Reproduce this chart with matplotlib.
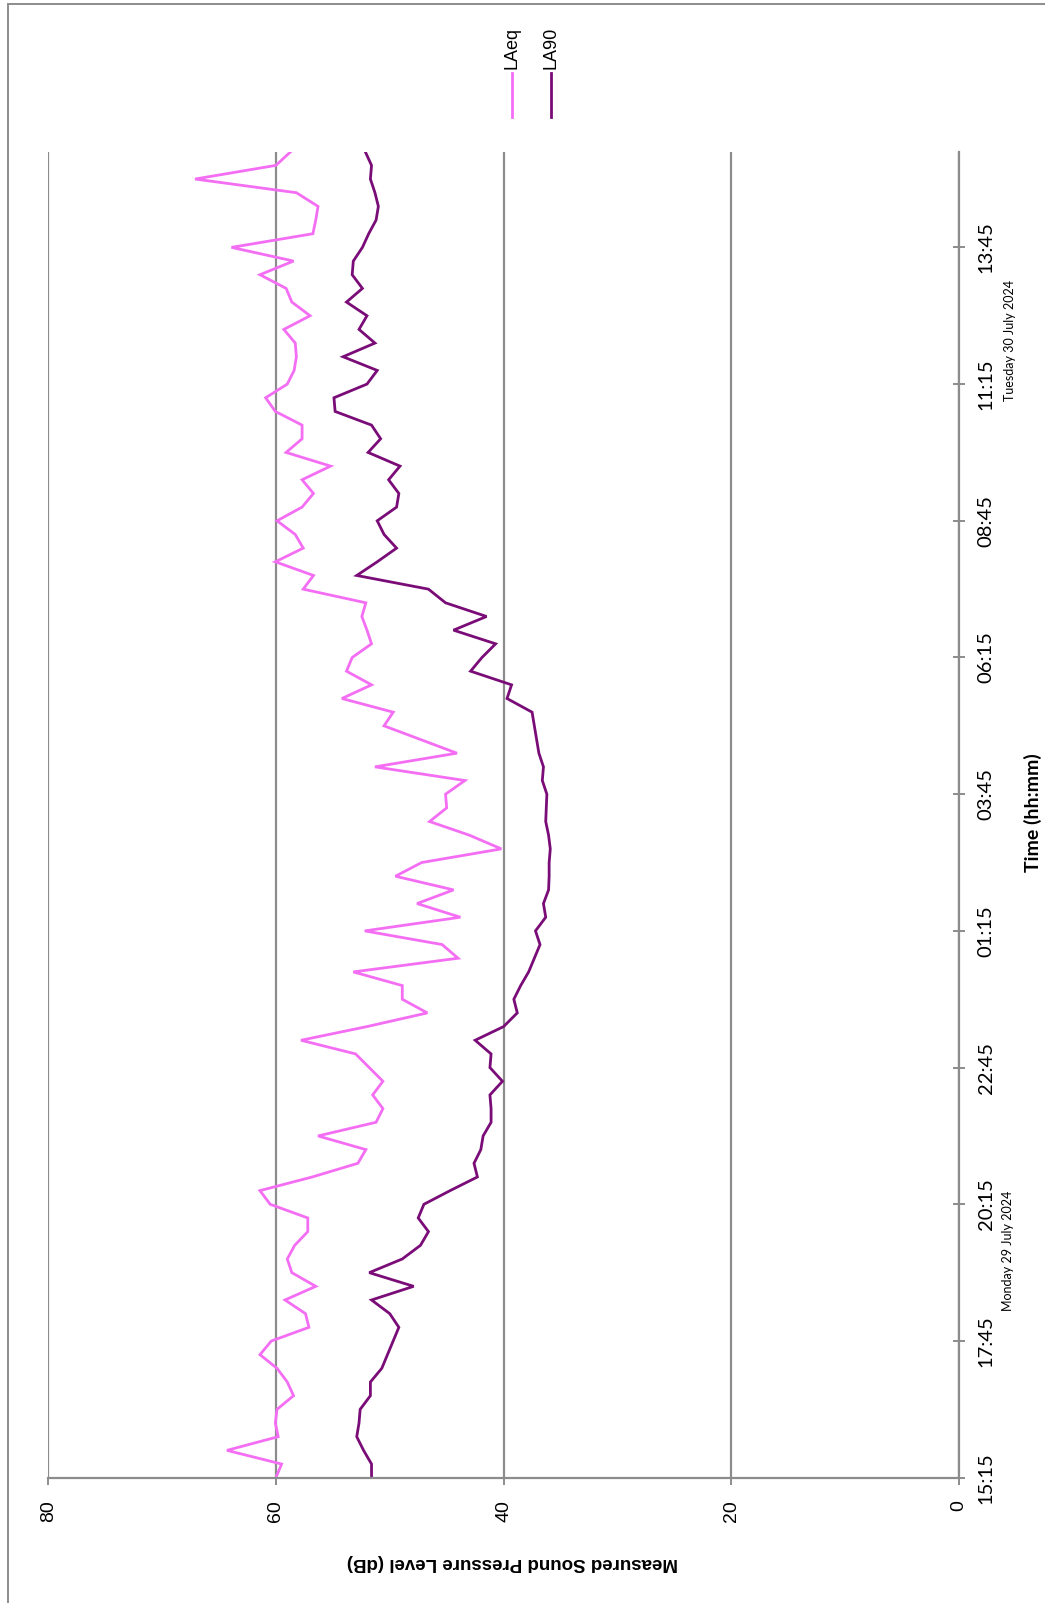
import matplotlib.pyplot as plt
from matplotlib.lines import Line2D
from matplotlib.patches import Rectangle

# 15-minute samples, 15:15 Mon 29 July -> 15:30 Tue 30 July
laeq = [60.0, 59.5, 64.3, 59.8, 60.05, 59.9, 58.45, 59.0, 59.9, 61.4,
        60.4, 57.1, 57.4, 59.2, 56.5, 58.6, 59.0, 58.35, 57.2, 57.2,
        60.5, 61.4, 56.8, 52.8, 52.1, 56.3, 51.2, 50.6, 51.5, 50.6,
        51.8, 53.0, 57.8, 52.0, 46.7, 48.9, 48.9, 53.2, 44.0, 45.4,
        52.2, 43.8, 47.6, 44.4, 49.5, 47.2, 40.2, 43.0, 46.5, 45.0,
        45.1, 43.4, 51.3, 44.1, 47.3, 50.5, 49.7, 54.2, 51.6, 53.8,
        53.3, 51.6, 52.0, 52.45, 52.1, 57.6, 56.7, 60.05, 57.6, 58.3,
        59.9, 57.7, 56.7, 57.7, 55.2, 59.1, 57.7, 57.7, 60.05, 60.9,
        59.0, 58.4, 58.2, 58.3, 59.3, 57.0, 58.6, 59.1, 61.4, 58.45,
        63.9, 56.75, 56.5, 56.3, 58.2, 67.1, 60.0, 58.7]

la90 = [51.6, 51.6, 52.3, 52.9, 52.7, 52.6, 51.7, 51.7, 50.7, 50.2,
        49.7, 49.2, 50.0, 51.6, 47.9, 51.8, 48.9, 47.3, 46.6, 47.5,
        47.0, 44.7, 42.3, 42.6, 42.0, 41.8, 41.1, 41.1, 41.2, 40.1,
        41.2, 41.1, 42.5, 40.0, 38.8, 39.1, 38.5, 37.8, 37.3, 36.8,
        37.2, 36.3, 36.5, 36.05, 36.0, 36.0, 35.9, 36.05, 36.3, 36.25,
        36.2, 36.6, 36.5, 36.9, 37.1, 37.3, 37.5, 39.7, 39.3, 42.9,
        41.9, 40.7, 44.4, 41.5, 45.1, 46.6, 52.9, 51.1, 49.4, 50.5,
        51.1, 49.4, 49.2, 50.1, 49.1, 51.9, 50.8, 51.6, 54.8, 54.9,
        52.0, 51.1, 54.1, 51.3, 52.7, 52.0, 53.8, 52.4, 53.3, 53.2,
        52.4, 51.85, 51.2, 51.0, 51.3, 51.7, 51.6, 52.15]

time_ticks = [0, 10, 20, 30, 40, 50, 60, 70, 80, 90]
time_labels = ['15:15', '17:45', '20:15', '22:45', '01:15',
               '03:45', '06:15', '08:45', '11:15', '13:45']
db_ticks = [0, 20, 40, 60, 80]

W, H = 1045, 1603
fig = plt.figure(figsize=(W / 100, H / 100), dpi=100)


def fx(px):
    return px / W


def fy(py):
    return 1 - py / H


ax = fig.add_axes([fx(48.2), fy(1477.7), fx(959 - 48.2), (1477.7 - 151.7) / H])

pos = list(range(len(laeq)))
ax.plot(laeq, pos, color='#f46ef4', lw=2.0, solid_joinstyle='miter')
ax.plot(la90, pos, color='#7a0c78', lw=2.0, solid_joinstyle='miter')

ax.set_xlim(80, 0)
ax.set_ylim(0, len(laeq) - 1)

for s in ['top', 'left']:
    ax.spines[s].set_visible(False)
for s in ['right', 'bottom']:
    ax.spines[s].set_color('#8c8c8c')
    ax.spines[s].set_linewidth(1.6)

ax.set_xticks(db_ticks)
ax.set_xticklabels([str(v) for v in db_ticks], rotation=90, fontsize=14,
                   family='Liberation Sans', va='top', ha='center')
ax.tick_params(axis='x', direction='out', length=5, width=1.4,
               color='#8c8c8c', pad=11)
ax.grid(axis='x', color='#8c8c8c', lw=1.6)
ax.set_axisbelow(True)

ax.yaxis.tick_right()
ax.set_yticks(time_ticks)
ax.set_yticklabels(time_labels, rotation=90, fontsize=14.5, family='Lato',
                   va='center', ha='left')
ax.tick_params(axis='y', direction='inout', length=9, width=1.4,
               color='#8c8c8c', pad=9)

fig.text(fx(1033), fy(813), 'Time (hh:mm)', rotation=90, fontsize=14,
         fontweight='bold', family='Lato', ha='center', va='center')
fig.text(fx(512), fy(1562), 'Measured Sound Pressure Level (dB)', rotation=180,
         fontsize=13.5, fontweight='bold', family='Liberation Sans',
         ha='center', va='center')
fig.text(fx(1008), fy(1251), 'Monday 29 July 2024', rotation=90, fontsize=9,
         family='Lato', ha='center', va='center')
fig.text(fx(1010), fy(340), 'Tuesday 30 July 2024', rotation=90, fontsize=9,
         family='Lato', ha='center', va='center')

# legend, rotated with the chart
for xp, name, col in [(512, 'LAeq', '#f46ef4'), (551, 'LA90', '#7a0c78')]:
    fig.text(fx(xp), fy(48), name, rotation=90, fontsize=13,
             family='Liberation Sans', ha='center', va='center')
    fig.add_artist(Line2D([fx(xp), fx(xp)], [fy(73), fy(117)], color=col, lw=2.0))

# chart border
fig.add_artist(Rectangle((fx(8), fy(1620)), 1.2, (1620 - 4) / H, fill=False,
                         edgecolor='#8c8c8c', lw=1.4, transform=fig.transFigure))

fig.savefig('out.png', dpi=100)
